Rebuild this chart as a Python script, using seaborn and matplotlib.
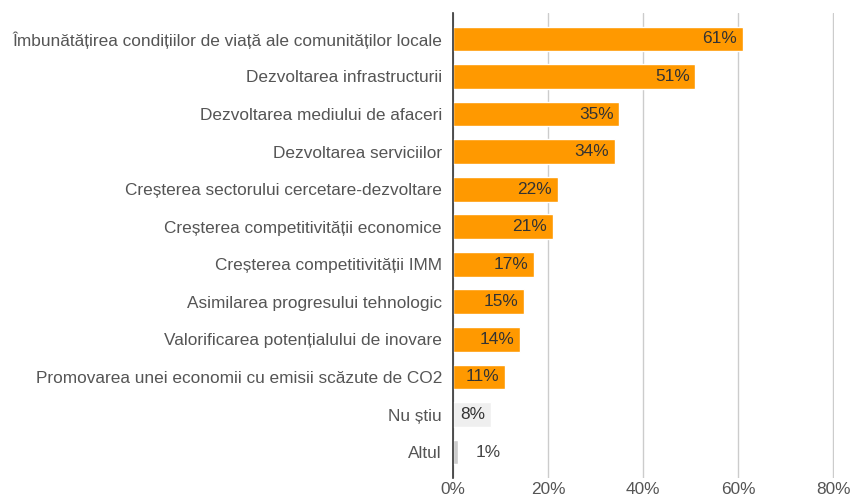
import matplotlib
matplotlib.use("Agg")
from matplotlib import pyplot as plt
import seaborn as sns

# date
categorii = [
    "Îmbunătățirea condițiilor de viață ale comunităților locale",
    "Dezvoltarea infrastructurii",
    "Dezvoltarea mediului de afaceri",
    "Dezvoltarea serviciilor",
    "Creșterea sectorului cercetare-dezvoltare",
    "Creșterea competitivității economice",
    "Creșterea competitivității IMM",
    "Asimilarea progresului tehnologic",
    "Valorificarea potențialului de inovare",
    "Promovarea unei economii cu emisii scăzute de CO2",
    "Nu știu",
    "Altul",
]
procente = [61, 51, 35, 34, 22, 21, 17, 15, 14, 11, 8, 1]
culori = ["#ff9900"] * 10 + ["#efefef", "#cccccc"]
ticks = [0, 20, 40, 60, 80]

sns.set_style("white")
plt.rcParams["font.family"] = ["Liberation Sans", "DejaVu Sans"]

fig = plt.figure(figsize=(8.52, 5.04), dpi=100)
ax = fig.add_axes([453 / 852, 1 - 478 / 504, 381.5 / 852, 465 / 504])

sns.barplot(x=procente, y=categorii, hue=categorii, palette=culori,
            legend=False, width=0.66, ax=ax, saturation=1)

ax.set_xlim(0, 80.3)
ax.set_ylim(11.69, -0.69)
ax.set_xticks(ticks)
ax.set_xticklabels([f"{t}%" for t in ticks])
ax.xaxis.grid(True, color="#cccccc", linewidth=1)
ax.set_axisbelow(True)
for s in ["top", "right", "bottom"]:
    ax.spines[s].set_visible(False)
ax.spines["left"].set_color("#333333")
ax.spines["left"].set_linewidth(1.2)
ax.spines["left"].set_zorder(5)
ax.tick_params(axis="y", length=0, labelsize=12.4, colors="#555555", pad=8)
ax.tick_params(axis="x", length=0, labelsize=12.4, colors="#555555", pad=3)
ax.set_xlabel("")
ax.set_ylabel("")

# etichete pe bare
for i, v in enumerate(procente):
    if v >= 5:
        ax.annotate(f"{v}%", (v, i), xytext=(-4, 0), textcoords="offset points",
                    ha="right", va="center", fontsize=12.4, color="#333333")
    else:
        ax.annotate(f"{v}%", (v, i), xytext=(13, 0), textcoords="offset points",
                    ha="left", va="center", fontsize=12.4, color="#444444")

fig.savefig("out.png", dpi=100)
